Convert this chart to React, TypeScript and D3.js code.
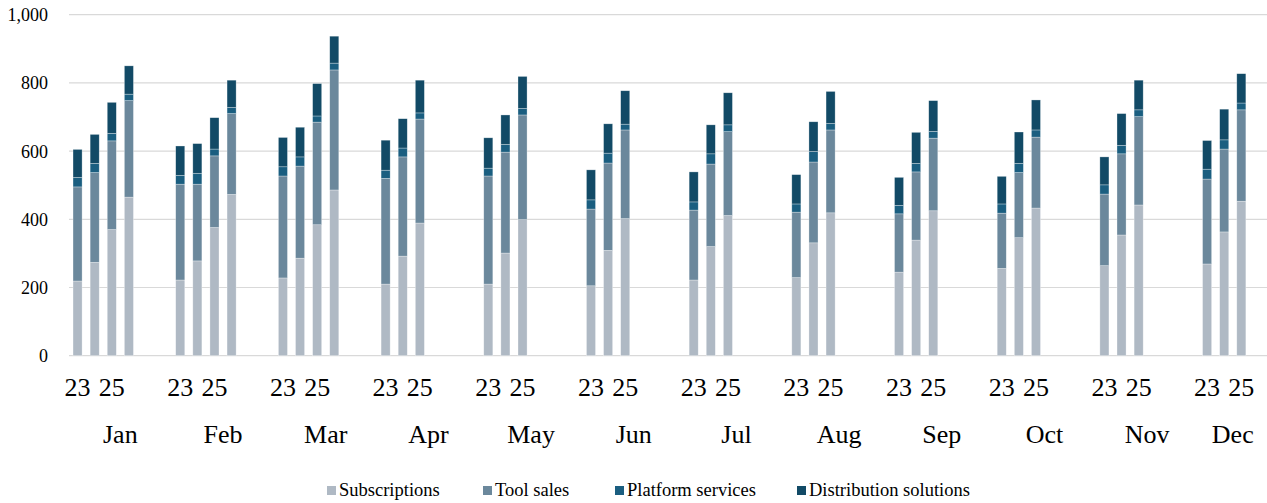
import React from "react";
import * as d3 from "d3";

const months = ["Jan", "Feb", "Mar", "Apr", "May", "Jun", "Jul", "Aug", "Sep", "Oct", "Nov", "Dec"];
const years = ["23", "24", "25", "26"];
const seriesNames = ["Subscriptions", "Tool sales", "Platform services", "Distribution solutions"];
const seriesColors = ["#AFB9C4", "#6B889C", "#1A5E80", "#124A66"];
const yTicks = [0, 200, 400, 600, 800, 1000];

// values per month, per year (23, 24, 25, 26); null = no data
const subscriptions: (number | null)[][] = [
  [219, 274, 370, 465], [222, 278, 376, 473], [228, 286, 384, 486],
  [210, 292, 389, null], [210, 301, 399, null], [205, 309, 402, null],
  [222, 320, 411, null], [229, 331, 419, null], [245, 339, 425, null],
  [256, 346, 433, null], [264, 354, 442, null], [269, 363, 453, null],
];
const toolSales: (number | null)[][] = [
  [276, 263, 260, 283], [281, 225, 210, 237], [299, 270, 301, 352],
  [310, 291, 305, null], [317, 296, 307, null], [225, 256, 260, null],
  [205, 242, 246, null], [192, 237, 243, null], [171, 200, 213, null],
  [162, 191, 208, null], [210, 238, 259, null], [249, 243, 268, null],
];
const platformServices: (number | null)[][] = [
  [28, 27, 22, 19], [26, 32, 20, 18], [27, 27, 18, 20],
  [24, 26, 18, null], [23, 23, 19, null], [27, 29, 17, null],
  [24, 30, 20, null], [24, 31, 19, null], [25, 25, 20, null],
  [27, 27, 21, null], [27, 25, 20, null], [29, 27, 20, null],
];
const distributionSolutions: (number | null)[][] = [
  [82, 85, 91, 83], [86, 87, 92, 80], [86, 87, 95, 79],
  [88, 86, 96, null], [89, 86, 94, null], [88, 86, 98, null],
  [88, 85, 94, null], [86, 87, 94, null], [82, 91, 90, null],
  [81, 92, 88, null], [82, 93, 87, null], [84, 90, 86, null],
];

const allSeries = [subscriptions, toolSales, platformServices, distributionSolutions];

type Slot = { key: string; month: number; year: number | null };

export default function App() {
  const W = 1267;
  const H = 503;
  const left = 69;
  const right = 1267;
  const font = "'Liberation Serif', 'Times New Roman', serif";

  const slots: Slot[] = [];
  months.forEach((m, i) => {
    years.forEach((y, j) => slots.push({ key: `${m}-${y}`, month: i, year: j }));
    if (i < months.length - 1) {
      slots.push({ key: `${m}-b1`, month: i, year: null });
      slots.push({ key: `${m}-b2`, month: i, year: null });
    }
  });

  const x = d3
    .scaleBand<string>()
    .domain(slots.map((s) => s.key))
    .range([left, right])
    .paddingInner(0.47)
    .paddingOuter(0.235);
  const y = d3.scaleLinear().domain([0, 1000]).range([355.7, 14.7]);
  const bw = x.bandwidth();
  const step = x.step();
  const gap = (step - bw) / 2;

  const bars: React.ReactNode[] = [];
  slots.forEach((s) => {
    if (s.year === null) return;
    let cum = 0;
    allSeries.forEach((ser, k) => {
      const v = ser[s.month][s.year as number];
      if (v == null) return;
      const y0 = y(cum);
      const y1 = y(cum + v);
      cum += v;
      bars.push(
        <rect
          key={`${s.key}-${k}`}
          x={x(s.key)}
          y={y1}
          width={bw}
          height={y0 - y1}
          fill={seriesColors[k]}
          stroke="#ffffff"
          strokeOpacity={0.5}
          strokeWidth={0.6}
        />
      );
    });
  });

  const yearLabels = slots.map((s, i) =>
    i % 2 === 0 && s.year !== null ? (
      <text
        key={`yl-${s.key}`}
        x={(x(s.key) as number) + bw / 2}
        y={396}
        textAnchor="middle"
        fontSize={26}
        fontFamily={font}
        fill="#000"
      >
        {years[s.year]}
      </text>
    ) : null
  );

  const monthLabels = months.map((m, i) => {
    const ms = slots.filter((s) => s.month === i);
    const start = (x(ms[0].key) as number) - gap;
    const end = (x(ms[ms.length - 1].key) as number) + bw + gap;
    return (
      <text
        key={`ml-${m}`}
        x={(start + end) / 2}
        y={443}
        textAnchor="middle"
        fontSize={26}
        fontFamily={font}
        fill="#000"
      >
        {m}
      </text>
    );
  });

  const legendX = [327, 483, 615, 797];

  return (
    <svg
      width={W}
      height={H}
      style={{ position: "absolute", left: 0, top: 0, background: "#fff" }}
    >
      {yTicks.map((t) => (
        <g key={`g-${t}`}>
          <line x1={left} x2={right} y1={y(t)} y2={y(t)} stroke="#D9D9D9" strokeWidth={1.2} />
          <text
            x={48}
            y={y(t) + 6.5}
            textAnchor="end"
            fontSize={18}
            fontFamily={font}
            fill="#000"
          >
            {d3.format(",")(t)}
          </text>
        </g>
      ))}
      {bars}
      {yearLabels}
      {monthLabels}
      {seriesNames.map((n, k) => (
        <g key={`lg-${n}`}>
          <rect x={legendX[k]} y={486} width={9} height={9} fill={seriesColors[k]} />
          <text x={legendX[k] + 12} y={496} fontSize={18.5} fontFamily={font} fill="#000">
            {n}
          </text>
        </g>
      ))}
    </svg>
  );
}
